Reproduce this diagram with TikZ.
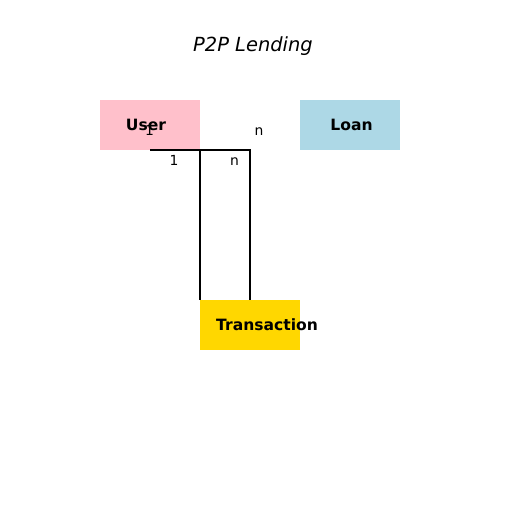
\documentclass[tikz,border=0pt]{standalone}
\usepackage{fontspec}
\setmainfont{DejaVu Sans}
\definecolor{userpink}{RGB}{255,192,203}
\definecolor{loanblue}{RGB}{173,216,230}
\definecolor{txgold}{RGB}{255,215,0}
\begin{document}
\begin{tikzpicture}[x=0.72pt,y=-0.72pt,
  boxlabel/.style={anchor=base,inner sep=0pt,font=\fontsize{11.2}{13}\selectfont\bfseries},
  card/.style={anchor=base,inner sep=0pt,font=\fontsize{10}{12}\selectfont},
  rel/.style={line width=1.1pt,black}]
\useasboundingbox[fill=white] (0,0) rectangle (512,512);
\node[anchor=base,inner sep=0pt,font=\fontsize{14}{16}\selectfont\itshape] (title) at (253,51.5) {P2P Lending};
\fill[userpink] (100,100) rectangle (200,150);
\fill[loanblue] (300,100) rectangle (400,150);
\fill[txgold] (200,300) rectangle (300,350);
\coordinate (userS) at (150,150);
\coordinate (userSE) at (200,150);
\coordinate (bend) at (250,150);
\coordinate (txNW) at (200,300);
\coordinate (txN) at (250,300);
\draw[rel] (userS) -- (bend) -- (txN);
\draw[rel] (userSE) -- (txNW);
\node[boxlabel] (user) at (146,131) {User};
\node[boxlabel] (loan) at (351.5,131) {Loan};
\node[boxlabel] (tx) at (267,330) {Transaction};
\node[card] (c1) at (149.5,136) {1};
\node[card] (c2) at (259,136) {n};
\node[card] (c3) at (174,166) {1};
\node[card] (c4) at (234.5,166) {n};
\end{tikzpicture}
\end{document}
